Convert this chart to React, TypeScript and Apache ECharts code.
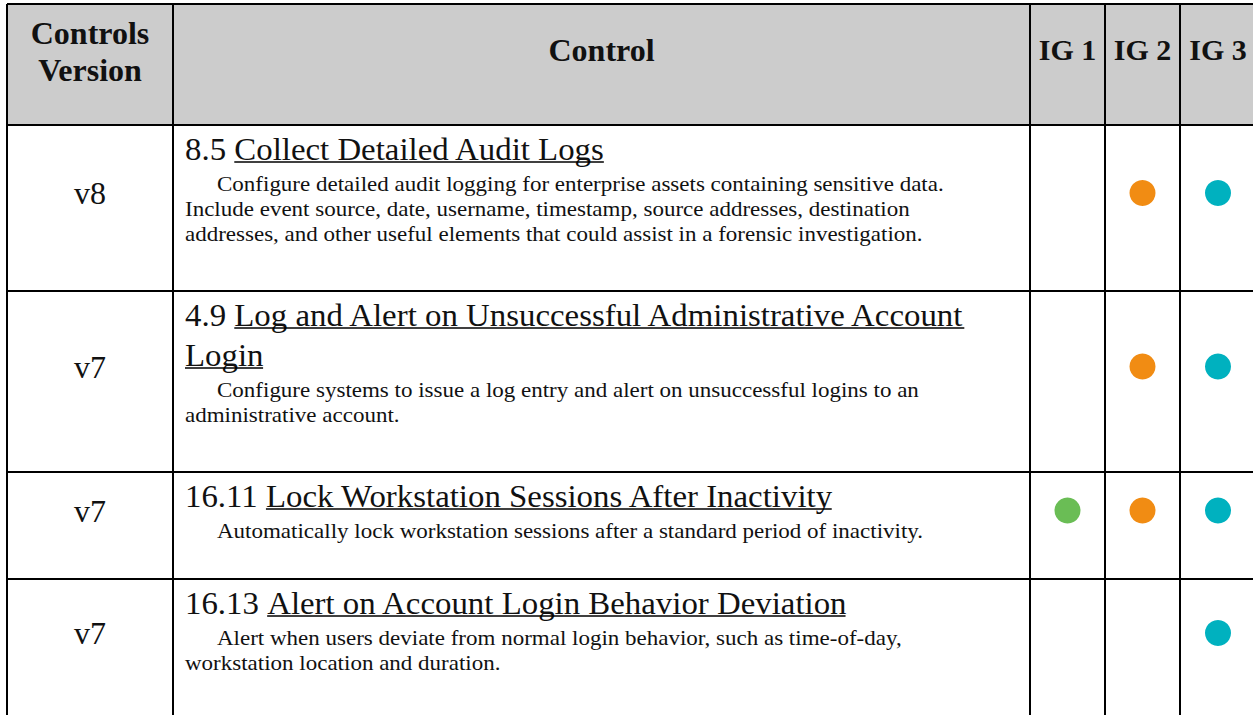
import React, { useEffect, useRef } from "react";
import * as echarts from "echarts";

// ---------- data ----------
const headerVersion = ["Controls", "Version"];
const headerControl = "Control";
const igLabels = ["IG 1", "IG 2", "IG 3"];
const versions = ["v8", "v7", "v7", "v7"];
const controlIds = ["8.5", "4.9", "16.11", "16.13"];
const controlTitles = [
  ["Collect Detailed Audit Logs"],
  ["Log and Alert on Unsuccessful Administrative Account", "Login"],
  ["Lock Workstation Sessions After Inactivity"],
  ["Alert on Account Login Behavior Deviation"],
];
const descriptions = [
  [
    "Configure detailed audit logging for enterprise assets containing sensitive data.",
    "Include event source, date, username, timestamp, source addresses, destination",
    "addresses, and other useful elements that could assist in a forensic investigation.",
  ],
  [
    "Configure systems to issue a log entry and alert on unsuccessful logins to an",
    "administrative account.",
  ],
  ["Automatically lock workstation sessions after a standard period of inactivity."],
  [
    "Alert when users deviate from normal login behavior, such as time-of-day,",
    "workstation location and duration.",
  ],
];
const ig1 = [false, false, true, false];
const ig2 = [true, true, true, false];
const ig3 = [true, true, true, true];

// ---------- layout / style ----------
const W = 1253;
const H = 715;
const colEdges = [7, 173, 1030, 1105, 1180, 1256];
const rowEdges = [4, 125, 291, 472, 579, 717];
const HEADER_BG = "#cccccc";
const FONT = "'Liberation Serif', 'DejaVu Serif', serif";
const HEAD_FS = 32;
const IG_FS = 30;
const TITLE_FS = 31;
const TITLE_SX = 1.06;
const DESC_FS = 20;
const DESC_SX = 1.15;
const VER_FS = 32;
const TEXT_PAD = 12;
const DESC_INDENT = 32;
const TITLE_OFF = 25;
const TITLE_LH = 40;
const DESC_GAP = 35;
const DESC_LH = 25;
const DOT_LIFT = 15;
const TEXT_COLOR = "#111111";
const igColors = ["#6abd55", "#f18c13", "#00b1bf"];

export default function App() {
  const ref = useRef<HTMLDivElement>(null);

  useEffect(() => {
    document.body.style.margin = "0";
    const el = ref.current!;
    const chart = echarts.init(el, null, { renderer: "svg" });
    const cv = document.createElement("canvas");
    const ctx = cv.getContext("2d")!;
    const measure = (t: string, font: string) => {
      ctx.font = font;
      return ctx.measureText(t).width;
    };

    const rows = [0, 1, 2, 3, 4];
    const igFlags = [ig1, ig2, ig3];

    const renderItem = (_params: any, api: any) => {
      const r = api.value(0) as number;
      const y0 = rowEdges[r];
      const y1 = rowEdges[r + 1];
      const c = (x: number, y: number) => api.coord([x, y]);
      const children: any[] = [];
      const [lx, ty] = c(colEdges[0], y0);
      const [rx, by] = c(colEdges[colEdges.length - 1], y1);
      children.push({
        type: "rect",
        shape: { x: lx, y: ty, width: rx - lx, height: by - ty },
        style: { fill: r === 0 ? HEADER_BG : "#ffffff" },
      });
      const line = (xa: number, ya: number, xb: number, yb: number, w = 2) => {
        const [p1x, p1y] = c(xa, ya);
        const [p2x, p2y] = c(xb, yb);
        children.push({
          type: "line",
          shape: { x1: p1x, y1: p1y, x2: p2x, y2: p2y },
          style: { stroke: "#000", lineWidth: w },
        });
      };
      const text = (
        t: string,
        x: number,
        y: number,
        fs: number,
        align: string,
        bold = false,
        sx = 1
      ) => {
        const [px, py] = c(x, y);
        children.push({
          type: "text",
          x: px,
          y: py,
          scaleX: sx,
          style: {
            text: t,
            x: 0,
            y: 0,
            fill: TEXT_COLOR,
            fontSize: fs,
            fontFamily: FONT,
            fontWeight: bold ? "bold" : "normal",
            align,
            verticalAlign: "middle",
          },
        });
      };
      const midY = (y0 + y1) / 2 - DOT_LIFT;
      if (r === 0) {
        const cx0 = (colEdges[0] + colEdges[1]) / 2;
        text(headerVersion[0], cx0, midY - 17, HEAD_FS, "center", true);
        text(headerVersion[1], cx0, midY + 20, HEAD_FS, "center", true);
        text(headerControl, (colEdges[1] + colEdges[2]) / 2, midY, HEAD_FS, "center", true);
        igLabels.forEach((l, k) => {
          text(l, (colEdges[2 + k] + colEdges[3 + k]) / 2, midY, IG_FS, "center", true);
        });
      } else {
        const i = r - 1;
        text(versions[i], (colEdges[0] + colEdges[1]) / 2, midY, VER_FS, "center");
        const tx = colEdges[1] + TEXT_PAD;
        const titleFont = `${TITLE_FS}px ${FONT}`;
        let y = y0 + TITLE_OFF;
        controlTitles[i].forEach((tl, j) => {
          let x = tx;
          if (j === 0) {
            const idStr = controlIds[i] + " ";
            text(idStr, x, y, TITLE_FS, "left", false, TITLE_SX);
            x += measure(idStr, titleFont) * TITLE_SX;
          }
          text(tl, x, y, TITLE_FS, "left", false, TITLE_SX);
          const w = measure(tl, titleFont) * TITLE_SX * 0.995;
          const uy = y + 12;
          line(x, uy, x + w, uy, 1.5);
          if (j < controlTitles[i].length - 1) y += TITLE_LH;
        });
        y += DESC_GAP;
        descriptions[i].forEach((dl, j) => {
          text(dl, tx + (j === 0 ? DESC_INDENT : 0), y, DESC_FS, "left", false, DESC_SX);
          y += DESC_LH;
        });
      }
      // borders
      line(colEdges[0], y0, colEdges[colEdges.length - 1], y0);
      line(colEdges[0], y1, colEdges[colEdges.length - 1], y1);
      colEdges.forEach((x) => line(x, y0, x, y1));
      return { type: "group", children };
    };

    const dotSeries = igFlags.map((flags, k) => ({
      type: "scatter",
      name: igLabels[k],
      symbol: "circle",
      symbolSize: 26,
      itemStyle: { color: igColors[k], opacity: 1 },
      z: 10,
      data: flags
        .map((f, i) =>
          f
            ? [
                (colEdges[2 + k] + colEdges[3 + k]) / 2,
                (rowEdges[i + 1] + rowEdges[i + 2]) / 2 - DOT_LIFT,
              ]
            : null
        )
        .filter((d) => d !== null),
    }));

    chart.setOption({
      animation: false,
      backgroundColor: "#ffffff",
      grid: { left: 0, right: 0, top: 0, bottom: 0 },
      xAxis: { type: "value", min: 0, max: W, show: false },
      yAxis: { type: "value", min: 0, max: H, inverse: true, show: false },
      tooltip: { show: false },
      series: [
        {
          type: "custom",
          renderItem,
          data: rows.map((r) => [r]),
          z: 1,
          clip: false,
        },
        ...dotSeries,
      ],
    });
    return () => chart.dispose();
  }, []);

  return <div ref={ref} style={{ width: W, height: H, background: "#fff" }} />;
}
